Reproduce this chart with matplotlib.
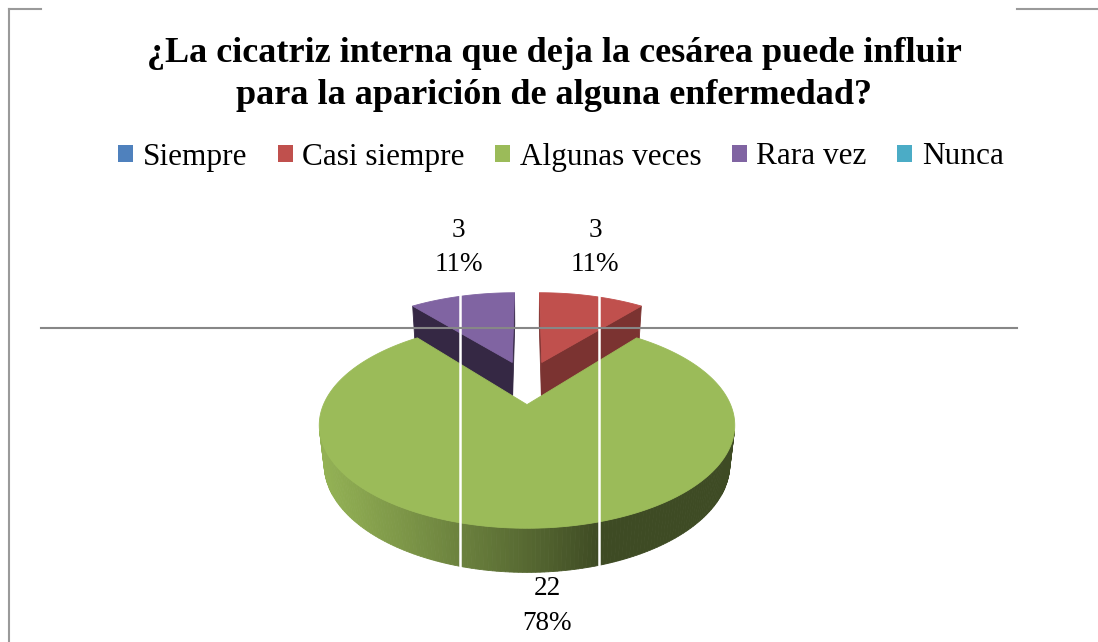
import numpy as np
import matplotlib
matplotlib.use("Agg")
import matplotlib.pyplot as plt
from matplotlib.patches import Polygon, Rectangle
from matplotlib.lines import Line2D
from matplotlib.colors import to_rgb

categories = ["Siempre", "Casi siempre", "Algunas veces", "Rara vez", "Nunca"]
counts = [0, 3, 22, 3, 0]
pct_labels = ["0%", "11%", "78%", "11%", "0%"]
colors = ["#4F81BD", "#C0504D", "#9BBB59", "#8064A2", "#4BACC6"]
cut_colors = ["#2F4D71", "#7B3331", "#5D7035", "#352844", "#2D6776"]

title = "¿La cicatriz interna que deja la cesárea puede influir\npara la aparición de alguna enfermedad?"

W, H_PX = 1098, 642

# perspective view of the 3d pie
CX, CY = 527, 382
F = 897.0
D0 = 4.62
SIN, COS = 0.463, 0.886
DEPTH = 0.22
EXPLODE = 0.24
CAM = np.array([0.0, D0 * SIN, D0 * COS])
LIGHT = np.array([-1.0, 0.0, 0.3])
LIGHT = LIGHT / np.linalg.norm(LIGHT)


def project(p):
    x, y, z = p
    v = y * COS - z * SIN
    d = D0 - (y * SIN + z * COS)
    k = F / d
    return CX + x * k, CY - v * k


def direction(t):
    return np.array([np.sin(t), 0.0, -np.cos(t)])


def faces_visible(pts, normal):
    c = np.mean(pts, axis=0)
    return np.dot(CAM - c, normal) > 0


plt.rcParams["font.family"] = ["Liberation Serif", "DejaVu Serif"]
fig = plt.figure(figsize=(W / 100, H_PX / 100), dpi=100)
ax = fig.add_axes([0, 0, 1, 1])
ax.set_xlim(0, W)
ax.set_ylim(H_PX, 0)
ax.axis("off")

total = float(sum(counts))
angles = np.cumsum([0] + counts) / total * 2 * np.pi
down = np.array([0.0, -DEPTH, 0.0])

sides = []
tops = []
for i, val in enumerate(counts):
    if val == 0:
        continue
    t1, t2 = angles[i], angles[i + 1]
    tm = (t1 + t2) / 2
    o = EXPLODE * direction(tm)
    arc = np.linspace(t1, t2, max(int(np.degrees(t2 - t1)), 2) + 1)
    rim = [o + direction(t) for t in arc]

    # outer wall, small strips
    base = np.array(to_rgb(colors[i]))
    for a, b in zip(arc[:-1], arc[1:]):
        quad = [o + direction(a), o + direction(b), o + direction(b) + down, o + direction(a) + down]
        n = direction((a + b) / 2)
        if not faces_visible(quad, n):
            continue
        f = 0.4 + 0.55 * max(0.0, np.dot(n, LIGHT))
        col = np.clip(base * f, 0, 1)
        dist = np.linalg.norm(CAM - np.mean(quad, axis=0))
        sides.append((dist, quad, col))

    # radial cut faces
    for t, sgn in ((t1, -1), (t2, 1)):
        quad = [o, o + direction(t), o + direction(t) + down, o + down]
        n = sgn * np.array([np.cos(t), 0.0, np.sin(t)])
        if not faces_visible(quad, n):
            continue
        dist = np.linalg.norm(CAM - np.mean(quad, axis=0))
        sides.append((dist, quad, to_rgb(cut_colors[i])))

    tops.append(([o] + rim, colors[i]))

for dist, quad, col in sorted(sides, key=lambda s: -s[0]):
    pts = [project(p) for p in quad]
    ax.add_patch(Polygon(pts, closed=True, facecolor=col, edgecolor=col, lw=0.6, zorder=2))

for pts3, col in tops:
    pts = [project(p) for p in pts3]
    ax.add_patch(Polygon(pts, closed=True, facecolor=col, edgecolor=col, lw=0.6, zorder=3))

# data labels
for i, val in enumerate(counts):
    if val == 0:
        continue
    tm = (angles[i] + angles[i + 1]) / 2
    o = EXPLODE * direction(tm)
    if np.cos(tm) > 0:
        x, y = project(o + 1.08 * direction(tm))
        ax.text(x, y - 15, "%d\n%s" % (val, pct_labels[i]), ha="center", va="bottom",
                fontsize=19.5, linespacing=1.45, zorder=5)
    else:
        x, y = project(o + direction(tm) + down)
        ax.text(x + 20, y + 4, "%d\n%s" % (val, pct_labels[i]), ha="center", va="top",
                fontsize=19.5, linespacing=1.5, zorder=5)

# title
fig.text(554 / W, 1 - 74 / H_PX, title, ha="center", va="center", fontsize=26,
         fontweight="bold", linespacing=1.36)

# legend
handles = [Rectangle((0, 0), 1, 1, facecolor=c, edgecolor="none") for c in colors]
fig.legend(handles, categories, loc="center", bbox_to_anchor=(561 / W, 1 - 157 / H_PX), ncol=5,
           frameon=False, fontsize=22.5, handlelength=0.48, handleheight=0.48,
           handletextpad=0.3, columnspacing=0.98)

# frame remnants from the source document
for xs, ys in [((9, 9), (9, H_PX)), ((9, 41), (9, 9)), ((1017, W), (9, 9))]:
    ax.add_line(Line2D(xs, ys, color="#9a9a9a", lw=1.5, zorder=1))
for x in (460, 599):
    ax.add_line(Line2D((x, x), (285, 575), color="white", lw=1.8, zorder=4))
ax.add_line(Line2D((41, 1017), (328, 328), color="#878787", lw=1.5, zorder=6))

fig.savefig("out.png", dpi=100)
